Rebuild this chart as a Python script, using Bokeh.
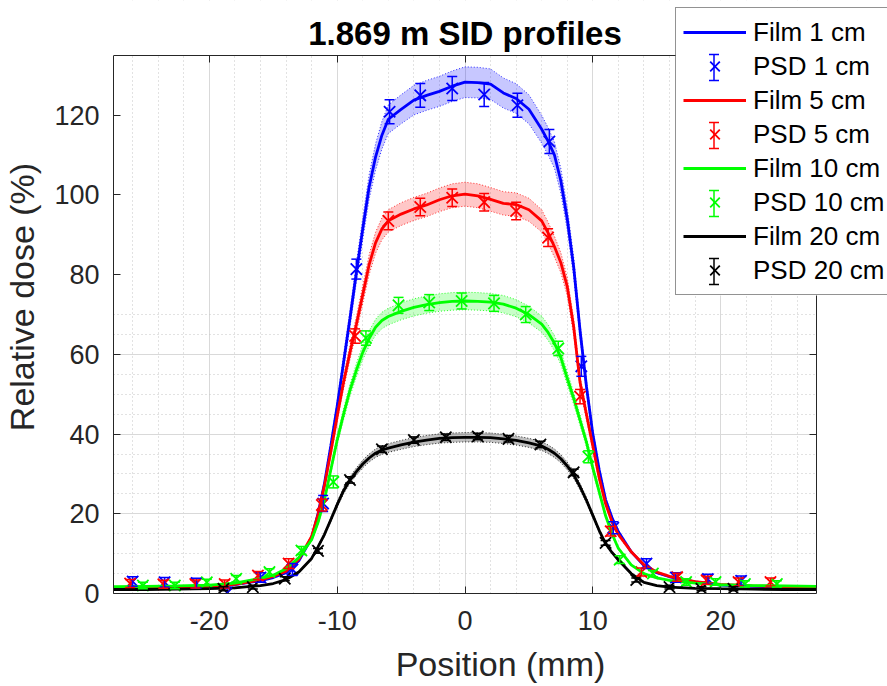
from bokeh.plotting import figure
from bokeh.models import (ColumnDataSource, Whisker, TeeHead, Legend, LegendItem, LinearAxis,
                          SingleIntervalTicker, Range1d, Arrow, BoxAnnotation, Label)
from bokeh.embed import file_html
from bokeh.resources import INLINE

# ---------------- data ----------------
film_x = [-27.5, -25, -22.5, -20, -18, -16, -15, -14, -13, -12, -11.5, -11, -10.5, -10, -9.5,
          -9, -8.5, -8, -7.5, -7, -6.5, -6, -5, -4, -3, -2, -1, 0, 1, 2, 3, 4, 5, 6, 6.5, 7,
          7.5, 8, 8.5, 9, 9.5, 10, 10.5, 11, 11.5, 12, 13, 14, 15, 16, 18, 20, 22.5, 25, 27.5]

film_1cm = [1.3, 1.4, 1.5, 1.7, 2.2, 3.2, 4.0, 5.2, 8.2, 14.0, 20.0, 27.5, 37.0, 47.0, 58.0,
            69.0, 80.5, 91.5, 102.0, 109.5, 115.0, 119.0, 121.5, 123.8, 125.0, 126.0, 127.3, 128.3,
            128.2, 127.8, 125.6, 124.2, 121.5, 116.5, 113.5, 110.0, 103.5, 94.0, 82.0, 66.0, 52.0,
            40.0, 31.0, 23.5, 19.0, 15.5, 10.5, 7.0, 5.2, 4.2, 2.9, 2.1, 1.8, 1.6, 1.5]
film_5cm = [1.4, 1.5, 1.6, 1.8, 2.3, 3.4, 4.3, 5.6, 8.6, 14.3, 19.8, 27.0, 35.5, 44.5, 53.0,
            60.5, 67.5, 75.0, 82.5, 88.0, 91.5, 93.5, 95.2, 96.5, 97.5, 98.8, 99.8, 100.2,
            99.8, 98.9, 97.9, 97.6, 96.3, 93.5, 90.5, 87.0, 83.0, 77.0, 67.0, 53.0, 45.0,
            37.0, 29.0, 22.5, 18.0, 14.8, 10.5, 7.2, 5.4, 4.3, 3.0, 2.3, 1.9, 1.7, 1.6]
film_10cm = [1.7, 1.8, 1.9, 2.1, 2.6, 3.8, 4.6, 6.2, 9.0, 13.5, 17.8, 23.5, 31.0, 38.5, 45.0,
             51.0, 56.0, 60.5, 64.0, 66.8, 68.5, 69.5, 70.8, 71.8, 72.5, 73.0, 73.3, 73.4,
             73.3, 73.1, 72.6, 71.6, 70.0, 67.6, 65.5, 62.8, 59.2, 54.0, 49.0, 43.5, 38.0,
             31.5, 25.5, 19.5, 15.0, 11.3, 7.2, 5.0, 3.9, 3.3, 2.6, 2.2, 2.0, 1.9, 1.8]
film_20cm = [1.0, 1.0, 1.1, 1.2, 1.4, 2.0, 2.5, 3.5, 5.4, 8.8, 11.7, 14.8, 18.5, 22.3, 25.8,
             28.5, 30.6, 32.5, 34.0, 35.2, 36.0, 36.5, 37.3, 38.0, 38.5, 38.9, 39.1, 39.2,
             39.2, 39.1, 38.8, 38.4, 37.8, 37.0, 36.2, 35.2, 33.8, 32.0, 29.8, 26.8, 23.4,
             19.6, 15.8, 12.5, 10.3, 8.4, 5.0, 2.8, 2.0, 1.6, 1.3, 1.2, 1.1, 1.0, 1.0]
film_rel_unc = [0.03, 0.03, 0.03, 0.03]   # relative film uncertainty (shaded band)

psd_1cm_x = [-26.0, -23.5, -21.0, -18.6, -16.0, -13.5, -11.1, -8.5, -5.9, -3.5, -1.0, 1.5,
             4.1, 6.6, 9.1, 11.6, 14.2, 16.5, 19.0, 21.6]
psd_1cm_y = [3.0, 2.8, 2.6, 0.2, 4.0, 6.0, 22.6, 81.4, 120.9, 125.0, 126.7, 125.2, 122.5,
             113.4, 57.0, 16.5, 7.5, 4.0, 3.6, 3.2]
psd_1cm_err = [1.2, 1.2, 1.2, 1.2, 1.2, 1.5, 2.0, 2.5, 3.0, 3.0, 3.0, 3.0, 3.0, 3.0, 2.5,
               1.5, 1.2, 1.2, 1.2, 1.2]

psd_5cm_x = [-26.2, -23.6, -21.1, -18.8, -16.2, -13.8, -11.2, -8.6, -6.0, -3.5, -1.0, 1.5,
             4.0, 6.5, 9.0, 11.4, 13.8, 16.6, 18.9, 21.4, 23.9]
psd_5cm_y = [2.5, 2.3, 2.4, 2.4, 4.5, 7.5, 22.2, 64.6, 93.5, 97.0, 99.3, 98.2, 96.0, 89.3,
             49.4, 15.6, 5.4, 4.1, 3.3, 2.9, 2.9]
psd_5cm_err = [1.0, 1.0, 1.0, 1.0, 1.0, 1.2, 1.5, 1.8, 2.2, 2.2, 2.2, 2.2, 2.2, 2.2, 1.8,
               1.2, 1.0, 1.0, 1.0, 1.0, 1.0]

psd_10cm_x = [-25.2, -22.7, -20.2, -17.9, -15.3, -12.8, -10.3, -7.75, -5.2, -2.8, -0.26, 2.27,
              4.75, 7.3, 9.65, 12.1, 14.7, 17.3, 19.6, 21.9, 24.4]
psd_10cm_y = [2.0, 2.0, 2.8, 3.7, 5.4, 10.8, 28.0, 64.1, 72.3, 73.0, 73.4, 72.8, 70.0, 61.5,
              34.3, 8.5, 5.0, 2.9, 2.9, 2.4, 2.4]
psd_10cm_err = [0.8, 0.8, 0.8, 0.8, 0.8, 1.0, 1.5, 1.8, 2.0, 2.0, 2.0, 2.0, 2.0, 1.8, 1.5,
                1.0, 0.8, 0.8, 0.8, 0.8, 0.8]

psd_20cm_x = [-18.9, -16.6, -14.1, -11.5, -9.0, -6.5, -4.0, -1.5, 1.0, 3.4, 5.9, 8.5, 11.0,
              13.4, 16.0, 18.5, 21.0]
psd_20cm_y = [1.2, 1.6, 3.7, 10.7, 28.5, 36.2, 38.5, 39.2, 39.4, 38.8, 37.4, 30.4, 12.7, 3.4,
              1.6, 1.2, 1.2]
psd_20cm_err = [0.5, 0.5, 0.5, 0.6, 0.8, 0.8, 0.8, 0.8, 0.8, 0.8, 0.8, 0.8, 0.6, 0.5, 0.5,
                0.5, 0.5]

depth_labels = ["1 cm", "5 cm", "10 cm", "20 cm"]
colors = ["#0000ff", "#ff0000", "#00ff00", "#000000"]
band_alpha = [0.22, 0.22, 0.22, 0.25]
x_lim = (-27.5, 27.5)
y_lim = (0, 135)
x_tick_labels = {-20: "-20", -10: "-10", 0: "0", 10: "10", 20: "20"}
title_text = "1.869 m SID profiles"

films = [film_1cm, film_5cm, film_10cm, film_20cm]
psds = [(psd_1cm_x, psd_1cm_y, psd_1cm_err), (psd_5cm_x, psd_5cm_y, psd_5cm_err),
        (psd_10cm_x, psd_10cm_y, psd_10cm_err), (psd_20cm_x, psd_20cm_y, psd_20cm_err)]

# ---------------- layout geometry (pixels) ----------------
FONT = "Liberation Sans"
DARK = "#262626"
BOX_W, BOX_H = 703, 538          # visible axes box
FRAME_W, FRAME_H = 774, 593      # frame also covers the title / legend area (top, right)
LEG_X, LEG_Y = 562, 298          # legend lower-left corner (px from frame left / bottom)
px_x = BOX_W / (x_lim[1] - x_lim[0])
px_y = BOX_H / (y_lim[1] - y_lim[0])
x_end = x_lim[0] + FRAME_W / px_x
y_end = y_lim[0] + FRAME_H / px_y
leg_x_data = x_lim[0] + LEG_X / px_x
leg_y_data = y_lim[0] + LEG_Y / px_y

p = figure(frame_width=FRAME_W, frame_height=FRAME_H,
           x_range=Range1d(x_lim[0], x_end), y_range=Range1d(y_lim[0], y_end),
           output_backend="svg", toolbar_location=None,
           min_border_left=0, min_border_right=0, min_border_top=0, min_border_bottom=0)
p.outline_line_color = None
p.background_fill_color = "white"
p.border_fill_color = "white"

xt = SingleIntervalTicker(interval=10, num_minor_ticks=5)
yt = SingleIntervalTicker(interval=20, num_minor_ticks=4)
p.xaxis[0].ticker = xt
p.yaxis[0].ticker = yt
p.xgrid[0].ticker = xt
p.ygrid[0].ticker = yt

for ax in (p.xaxis[0], p.yaxis[0]):
    ax.major_label_text_font = FONT
    ax.major_label_text_font_size = "27px"
    ax.major_label_text_color = DARK
    ax.axis_label_text_font = FONT
    ax.axis_label_text_font_size = "34px"
    ax.axis_label_text_font_style = "normal"
    ax.axis_label_text_color = DARK
    ax.major_tick_in = 7
    ax.major_tick_out = 0
    ax.minor_tick_line_color = None
    ax.axis_line_color = DARK
    ax.major_tick_line_color = DARK
p.xaxis[0].bounds = x_lim
p.yaxis[0].bounds = y_lim
p.xaxis[0].axis_label = "Position (mm)"
p.yaxis[0].axis_label = "Relative dose (%)"
p.xaxis[0].major_label_overrides = x_tick_labels
p.xaxis[0].major_label_standoff = 13
p.xaxis[0].axis_label_standoff = 12
p.yaxis[0].major_label_standoff = 10
p.yaxis[0].axis_label_standoff = 10

# top and right edges of the axes box (ticks pointing inward); they stop at the legend
for loc, tk, fixed, bnd in (("above", xt, y_lim[1], (x_lim[0], leg_x_data)),
                            ("right", yt, x_lim[1], (y_lim[0], leg_y_data))):
    a = LinearAxis(ticker=tk, fixed_location=fixed, bounds=bnd,
                   major_label_text_font_size="0px", major_label_standoff=0,
                   major_tick_in=7, major_tick_out=0, minor_tick_line_color=None,
                   axis_line_color=DARK, major_tick_line_color=DARK)
    p.add_layout(a, loc)

p.grid.grid_line_color = "#d9d9d9"
p.grid.grid_line_width = 1
p.grid.minor_grid_line_color = "#c4c4c4"
p.grid.minor_grid_line_dash = "1 3"

# hide grid lines outside the axes box and behind the legend
p.add_layout(BoxAnnotation(bottom=y_lim[1], fill_color="white", fill_alpha=1.0,
                           line_color=None, level="underlay"))
p.add_layout(BoxAnnotation(left=x_lim[1], fill_color="white", fill_alpha=1.0,
                           line_color=None, level="underlay"))
p.add_layout(BoxAnnotation(left=LEG_X, bottom=LEG_Y, left_units="screen", bottom_units="screen",
                           fill_color="white", fill_alpha=1.0, line_color=None,
                           level="underlay"))

items = []
for i in range(4):
    c = colors[i]
    f = films[i]
    unc = film_rel_unc[i]
    lo = [v * (1 - unc) for v in f]
    hi = [v * (1 + unc) for v in f]
    p.varea(x=film_x, y1=lo, y2=hi, fill_color=c, fill_alpha=band_alpha[i])
    p.line(film_x, lo, line_color=c, line_width=1, line_dash="1 2", line_alpha=0.8)
    p.line(film_x, hi, line_color=c, line_width=1, line_dash="1 2", line_alpha=0.8)
    lr = p.line(film_x, f, line_color=c, line_width=2.8)

    px, py, pe = psds[i]
    src = ColumnDataSource(dict(x=px, y=py,
                                lower=[a - b for a, b in zip(py, pe)],
                                upper=[a + b for a, b in zip(py, pe)]))
    w = Whisker(source=src, base="x", lower="lower", upper="upper", dimension="height",
                line_color=c, line_width=1.5, level="glyph",
                lower_head=TeeHead(size=10, line_color=c, line_width=1.5),
                upper_head=TeeHead(size=10, line_color=c, line_width=1.5))
    p.add_layout(w)
    sr = p.scatter("x", "y", source=src, marker="x", size=16, line_color=c, line_width=1.8)
    items.append(LegendItem(label="Film " + depth_labels[i], renderers=[lr]))
    items.append(LegendItem(label="PSD " + depth_labels[i], renderers=[sr]))

# title (inside the enlarged frame, centred over the axes box)
p.add_layout(Label(x=(x_lim[0] + x_lim[1]) / 2, y=FRAME_H - 33, x_units="data", y_units="screen",
                   text=title_text, text_align="center", text_baseline="middle",
                   text_font=FONT, text_font_size="33px", text_font_style="bold",
                   text_color="#000000"))

legend = Legend(items=items, location=(LEG_X, LEG_Y), orientation="vertical",
                glyph_width=63, glyph_height=34, label_height=34, spacing=0, padding=7,
                margin=0, label_standoff=7, label_text_font=FONT, label_text_font_size="26px",
                label_text_color="#000000", border_line_color=DARK, border_line_width=1,
                background_fill_alpha=0.0, level="annotation")
p.add_layout(legend)

# vertical error-bar symbols for the PSD legend rows
for k in range(4):
    cy = LEG_Y + 286 - 7 - 34 * (2 * k + 1) - 17
    p.add_layout(Arrow(x_start=LEG_X + 7 + 31.5, y_start=cy - 13,
                       x_end=LEG_X + 7 + 31.5, y_end=cy + 13,
                       start_units="screen", end_units="screen", level="overlay",
                       line_color=colors[k], line_width=1.5,
                       start=TeeHead(size=10, line_color=colors[k], line_width=1.5),
                       end=TeeHead(size=10, line_color=colors[k], line_width=1.5)))

open("out.html", "w").write(file_html(p, INLINE))
